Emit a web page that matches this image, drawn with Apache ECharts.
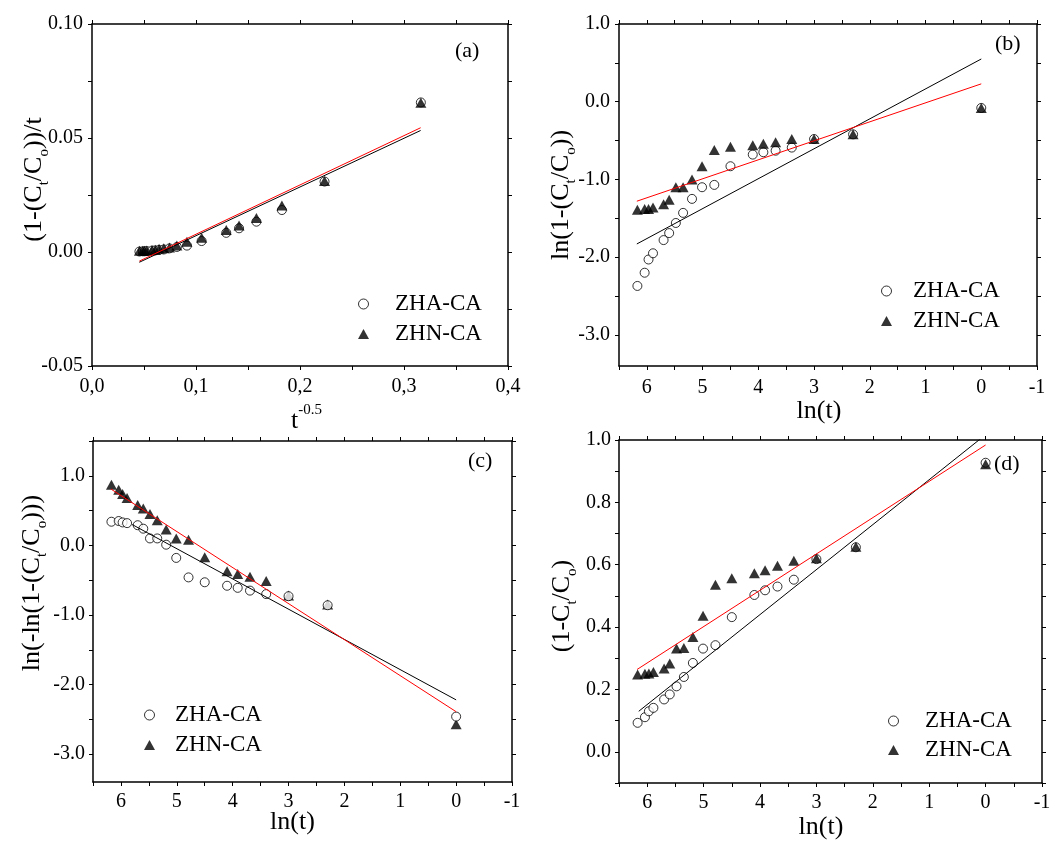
<!DOCTYPE html>
<html><head><meta charset="utf-8">
<script src="https://cdn.jsdelivr.net/npm/echarts@6/dist/echarts.min.js"></script>
<style>html,body{margin:0;padding:0;background:#fff}#c{width:1053px;height:843px}</style>
</head><body><div id="c"></div>
<script>
// ---------- data ----------
// ln(t) positions shared by panels (b), (c), (d)
const lnT = [6.17, 6.04, 5.97, 5.89, 5.70, 5.60, 5.48, 5.35, 5.19, 5.01, 4.79, 4.50, 4.10, 3.91, 3.69, 3.40, 3.00, 2.30, 0.00];
// t^-0.5 positions for panel (a)
const tInv = [0.0456, 0.0488, 0.0506, 0.0527, 0.0577, 0.0609, 0.0645, 0.0690, 0.0745, 0.0816, 0.0913, 0.1054, 0.1291, 0.1414, 0.1581, 0.1826, 0.2236, 0.3162];

const aZHA = [0.0002, 0.0003, 0.0003, 0.0004, 0.0006, 0.0007, 0.0009, 0.0011, 0.0016, 0.0022, 0.0028, 0.0048, 0.0084, 0.0104, 0.0133, 0.0184, 0.0309, 0.0656];
const aZHN = [0.0005, 0.0006, 0.0006, 0.0007, 0.0009, 0.0010, 0.0014, 0.0016, 0.0020, 0.0029, 0.0045, 0.0062, 0.0096, 0.0116, 0.0149, 0.0204, 0.0311, 0.0655];

const bZHA = [-2.37, -2.20, -2.03, -1.95, -1.78, -1.69, -1.56, -1.43, -1.25, -1.10, -1.07, -0.83, -0.68, -0.65, -0.63, -0.59, -0.48, -0.42, -0.08];
const bZHN = [-1.39, -1.38, -1.38, -1.36, -1.32, -1.26, -1.10, -1.10, -1.00, -0.83, -0.62, -0.58, -0.56, -0.54, -0.52, -0.48, -0.48, -0.42, -0.08];

const cZHA = [0.34, 0.35, 0.33, 0.32, 0.29, 0.24, 0.10, 0.10, 0.01, -0.18, -0.46, -0.53, -0.58, -0.61, -0.65, -0.70, -0.73, -0.86, -2.46];
const cZHN = [0.87, 0.80, 0.74, 0.68, 0.58, 0.53, 0.45, 0.36, 0.23, 0.10, 0.08, -0.17, -0.37, -0.41, -0.45, -0.51, -0.72, -0.85, -2.57];

const dZHA = [0.093, 0.111, 0.130, 0.141, 0.168, 0.184, 0.210, 0.240, 0.285, 0.331, 0.342, 0.432, 0.503, 0.518, 0.530, 0.552, 0.618, 0.656, 0.927];
const dZHN = [0.248, 0.250, 0.251, 0.256, 0.267, 0.283, 0.331, 0.333, 0.368, 0.436, 0.536, 0.557, 0.573, 0.582, 0.597, 0.613, 0.621, 0.658, 0.922];

// fitted lines (end points)
const aFitX = [0.0455, 0.316];
const aFitBlack = [-0.0045, 0.0533];
const aFitRed = [-0.0040, 0.0545];
const bFitX = [6.18, 0];
const bFitBlack = [-1.83, 0.55];
const bFitRed = [-1.28, 0.23];
const cFitBlackX = [5.80, 0];
const cFitBlack = [0.30, -2.22];
const cFitRedX = [6.18, 0];
const cFitRed = [0.81, -2.39];
const dFitBlackX = [6.15, 0];
const dFitBlack = [0.130, 1.017];
const dFitRedX = [6.18, 0];
const dFitRed = [0.264, 0.984];

// ticks and tick labels
const aXTicks = [0, 0.05, 0.1, 0.15, 0.2, 0.25, 0.3, 0.35, 0.4];
const aXLabels = [0, 0.1, 0.2, 0.3, 0.4];
const aYTicks = [-0.05, -0.025, 0, 0.025, 0.05, 0.075, 0.1];
const aYLabels = [-0.05, 0, 0.05, 0.1];
const lnTicks = [6.5, 6, 5.5, 5, 4.5, 4, 3.5, 3, 2.5, 2, 1.5, 1, 0.5, 0, -0.5, -1];
const lnLabels = [6, 5, 4, 3, 2, 1, 0, -1];
const bYTicks = [-3, -2.5, -2, -1.5, -1, -0.5, 0, 0.5, 1];
const bYLabels = [-3, -2, -1, 0, 1];
const cYTicks = [-3, -2.5, -2, -1.5, -1, -0.5, 0, 0.5, 1, 1.5];
const cYLabels = [-3, -2, -1, 0, 1];
const dYTicks = [-0.1, 0, 0.1, 0.2, 0.3, 0.4, 0.5, 0.6, 0.7, 0.8, 0.9, 1.0];
const dYLabels = [0, 0.2, 0.4, 0.6, 0.8, 1.0];

const legendNames = ['ZHA-CA', 'ZHN-CA'];
const panelLabels = ['(a)', '(b)', '(c)', '(d)'];

// ---------- layout / style ----------
const FONT = '"Liberation Serif", "Times New Roman", serif';
const richStyles = {
  m: {fontFamily: FONT, fontSize: 26, lineHeight: 36, verticalAlign: 'middle', color: '#000'},
  s: {fontFamily: FONT, fontSize: 15, lineHeight: 19, verticalAlign: 'bottom', color: '#000'},
  u: {fontFamily: FONT, fontSize: 15, lineHeight: 15, verticalAlign: 'top', color: '#000'}
};

const panels = [
  {grid: {left: 92, top: 24, width: 416, height: 342},
   x: {min: 0, max: 0.4, inverse: false, ticks: aXTicks, labels: aXLabels, fmt: v => v.toFixed(1).replace('.', ','), margin: 11,
       name: '{m|t}{u|-0.5}', gap: 37, pad: [0, 0, 0, 13]},
   y: {min: -0.05, max: 0.1, ticks: aYTicks, labels: aYLabels, fmt: v => v.toFixed(2), margin: 9,
       name: '{m|(1-(C}{s|t}{m|/C}{s|o}{m|))/t}', gap: 40, pad: [0, 0, 0, 31]},
   xs: tInv, zha: aZHA, zhn: aZHN,
   fits: [{x: aFitX, y: aFitBlack, c: '#000'}, {x: aFitX, y: aFitRed, c: '#ff0000'}],
   circlesOnTop: false,
   legend: {left: 358, top: 291, gap: 4, pad: 21},
   label: {left: 455, top: 38}},
  {grid: {left: 619, top: 24, width: 418, height: 342},
   x: {min: -1, max: 6.5, inverse: true, ticks: lnTicks, labels: lnLabels, fmt: v => String(Math.round(v)), margin: 12,
       name: '{m|ln(t)}', gap: 27, pad: [0, 18, 0, 0]},
   y: {min: -3.4, max: 1.0, ticks: bYTicks, labels: bYLabels, fmt: v => v.toFixed(1), margin: 9,
       name: '{m|ln(1-(C}{s|t}{m|/C}{s|o}{m|))}', gap: 40, pad: [0, 0, 0, 0]},
   xs: lnT, zha: bZHA, zhn: bZHN,
   fits: [{x: bFitX, y: bFitBlack, c: '#000'}, {x: bFitX, y: bFitRed, c: '#ff0000'}],
   circlesOnTop: false,
   legend: {left: 881, top: 278, gap: 4, pad: 16},
   label: {left: 995, top: 31}},
  {grid: {left: 93, top: 441, width: 419, height: 341},
   x: {min: -1, max: 6.5, inverse: true, ticks: lnTicks, labels: lnLabels, fmt: v => String(Math.round(v)), margin: 10,
       name: '{m|ln(t)}', gap: 22, pad: [0, 20, 0, 0]},
   y: {min: -3.4, max: 1.5, ticks: cYTicks, labels: cYLabels, fmt: v => v.toFixed(1), margin: 8,
       name: '{m|ln(-ln(1-(C}{s|t}{m|/C}{s|o}{m|)))}', gap: 43, pad: [0, 0, 0, 57]},
   xs: lnT, zha: cZHA, zhn: cZHN,
   fits: [{x: cFitBlackX, y: cFitBlack, c: '#000'}, {x: cFitRedX, y: cFitRed, c: '#ff0000'}],
   circlesOnTop: true,
   legend: {left: 144, top: 702, gap: 4, pad: 15},
   label: {left: 468, top: 448}},
  {grid: {left: 619, top: 440, width: 423, height: 343},
   x: {min: -1, max: 6.5, inverse: true, ticks: lnTicks, labels: lnLabels, fmt: v => String(Math.round(v)), margin: 10,
       name: '{m|ln(t)}', gap: 26, pad: [0, 19, 0, 0]},
   y: {min: -0.1, max: 1.0, ticks: dYTicks, labels: dYLabels, fmt: v => v.toFixed(1), margin: 8,
       name: '{m|(1-C}{s|t}{m|/C}{s|o}{m|)}', gap: 39, pad: [0, 0, 0, 11]},
   xs: lnT, zha: dZHA, zhn: dZHN,
   fits: [{x: dFitBlackX, y: dFitBlack, c: '#000'}, {x: dFitRedX, y: dFitRed, c: '#ff0000'}],
   circlesOnTop: false,
   legend: {left: 888, top: 708, gap: 3, pad: 21},
   label: {left: 994, top: 451}}
];

const axisLine = {show: true, onZero: false, lineStyle: {color: '#000', width: 1.5}};
function tickCfg(vals) {
  return {show: true, inside: false, length: 4, customValues: vals, lineStyle: {color: '#000', width: 1}};
}

const grids = [], xAxes = [], yAxes = [], series = [], legends = [], titles = [];
panels.forEach((p, g) => {
  grids.push(Object.assign({containLabel: false, outerBoundsMode: 'none'}, p.grid));
  const xb = {
    gridIndex: g, type: 'value', position: 'bottom', min: p.x.min, max: p.x.max, inverse: p.x.inverse,
    axisLine, splitLine: {show: false}, axisTick: tickCfg(p.x.ticks),
    axisLabel: {customValues: p.x.labels, formatter: p.x.fmt, margin: p.x.margin, fontFamily: FONT, fontSize: 20, color: '#000'},
    name: p.x.name, nameLocation: 'middle', nameGap: p.x.gap, nameMoveOverlap: false,
    nameTextStyle: {fontFamily: FONT, fontSize: 26, color: '#000', padding: p.x.pad, rich: richStyles}
  };
  const xt = {
    gridIndex: g, type: 'value', position: 'top', min: p.x.min, max: p.x.max, inverse: p.x.inverse,
    axisLine, splitLine: {show: false}, axisTick: tickCfg(p.x.ticks), axisLabel: {show: false}
  };
  const yl = {
    gridIndex: g, type: 'value', position: 'left', min: p.y.min, max: p.y.max,
    axisLine, splitLine: {show: false}, axisTick: tickCfg(p.y.ticks),
    axisLabel: {customValues: p.y.labels, formatter: p.y.fmt, margin: p.y.margin, fontFamily: FONT, fontSize: 20, color: '#000'},
    name: p.y.name, nameLocation: 'middle', nameRotate: 90, nameGap: p.y.gap, nameMoveOverlap: false,
    nameTextStyle: {fontFamily: FONT, fontSize: 26, color: '#000', padding: p.y.pad, rich: richStyles}
  };
  const yr = {
    gridIndex: g, type: 'value', position: 'right', min: p.y.min, max: p.y.max,
    axisLine, splitLine: {show: false}, axisTick: tickCfg(p.y.ticks), axisLabel: {show: false}
  };
  xAxes.push(xb, xt);
  yAxes.push(yl, yr);
  const xi = 2 * g, yi = 2 * g;
  series.push({
    type: 'scatter', name: legendNames[0], xAxisIndex: xi, yAxisIndex: yi,
    data: p.xs.map((x, i) => [x, p.zha[i]]),
    symbol: 'circle', symbolSize: 9,
    itemStyle: {color: '#fff', borderColor: '#000', borderWidth: 1},
    z: p.circlesOnTop ? 4 : 2, emphasis: {disabled: true}, silent: true
  });
  series.push({
    type: 'scatter', name: legendNames[1], xAxisIndex: xi, yAxisIndex: yi,
    data: p.xs.map((x, i) => [x, p.zhn[i]]),
    symbol: 'triangle', symbolSize: [11, 10],
    itemStyle: {color: '#000'},
    z: 3, emphasis: {disabled: true}, silent: true
  });
  p.fits.forEach((f, k) => {
    series.push({
      type: 'line', name: 'fit' + g + k, xAxisIndex: xi, yAxisIndex: yi,
      data: f.x.map((x, i) => [x, f.y[i]]),
      symbol: 'none', clip: true, lineStyle: {color: f.c, width: 1}, z: 5, silent: true
    });
  });
  legends.push({
    left: p.legend.left, top: p.legend.top, orient: 'vertical', padding: 0, itemGap: p.legend.gap,
    itemWidth: 11, itemHeight: 10, selectedMode: false,
    textStyle: {fontFamily: FONT, fontSize: 23, color: '#000', lineHeight: 26, padding: [0, 0, 0, p.legend.pad]},
    data: [
      {name: legendNames[0], icon: 'circle', itemStyle: {color: '#fff', borderColor: '#000', borderWidth: 1}},
      {name: legendNames[1], icon: 'triangle', itemStyle: {color: '#000', borderWidth: 0}}
    ]
  });
  titles.push({
    text: panelLabels[g], left: p.label.left, top: p.label.top, padding: 0,
    textStyle: {fontFamily: FONT, fontSize: 22, fontWeight: 'normal', color: '#000', lineHeight: 26}
  });
});

const chart = echarts.init(document.getElementById('c'), null, {renderer: 'canvas'});
chart.setOption({
  animation: false,
  backgroundColor: '#fff',
  title: titles,
  legend: legends,
  grid: grids,
  xAxis: xAxes,
  yAxis: yAxes,
  series: series
});
</script></body></html>
